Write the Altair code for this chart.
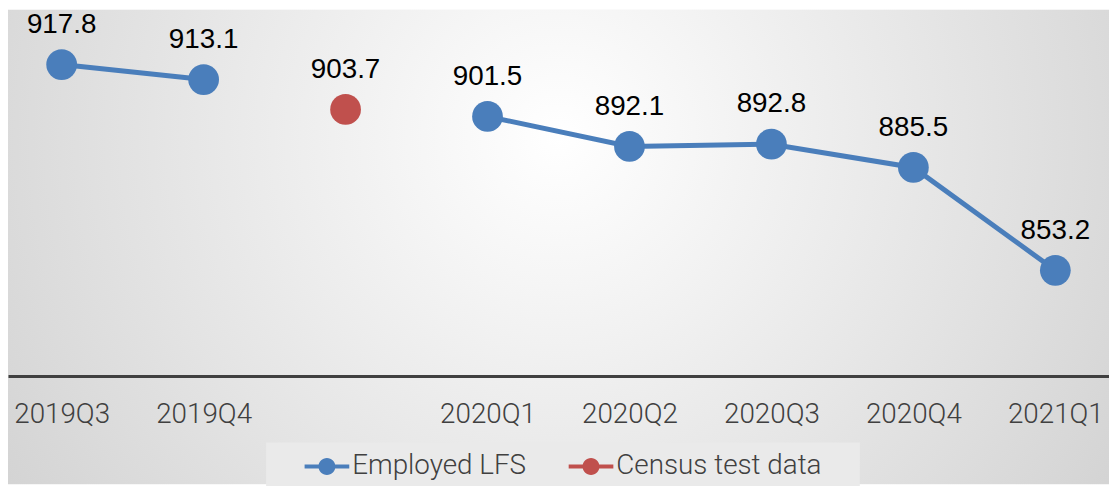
import altair as alt
import pandas as pd

quarters = ["2019Q3", "2019Q4", "Census", "2020Q1", "2020Q2", "2020Q3", "2020Q4", "2021Q1"]
values = [917.8, 913.1, 903.7, 901.5, 892.1, 892.8, 885.5, 853.2]
series = ["Employed LFS", "Employed LFS", "Census test data", "Employed LFS",
          "Employed LFS", "Employed LFS", "Employed LFS", "Employed LFS"]
segment = [1, 1, 0, 2, 2, 2, 2, 2]

series_names = ["Employed LFS", "Census test data"]
series_colors = ["#4A7EBB", "#C0504D"]

df = pd.DataFrame({"quarter": quarters, "value": values, "series": series, "segment": segment})

W, H = 1109, 369

xenc = alt.X("quarter:N", sort=quarters,
             scale=alt.Scale(type="point", padding=0.378),
             axis=alt.Axis(title=None, ticks=False, labelAngle=0, zindex=1,
                           labelExpr="datum.value == 'Census' ? '' : datum.value",
                           labelFont="Roboto", labelFontWeight=300, labelFontSize=28,
                           labelColor="#404040", labelPadding=25,
                           domainColor="#404040", domainWidth=3, grid=False))
yenc = alt.Y("value:Q", scale=alt.Scale(domain=[820, 935], nice=False, zero=False), axis=None)

bg = alt.Chart(alt.Data(values=[{"a": 1}])).mark_rect(
    fill=alt.RadialGradient(
        gradient="radial",
        stops=[alt.GradientStop(offset=0, color="#ffffff"),
               alt.GradientStop(offset=1, color="#c6c6c6")],
        x1=0.5, y1=0.4, r1=0, x2=0.5, y2=0.4, r2=0.78)
).encode(x=alt.value(0), x2=alt.value(W), y=alt.value(0), y2=alt.value(478))

base = alt.Chart(df)

line = base.transform_filter("datum.segment > 0").mark_line(
    color=series_colors[0], strokeWidth=5
).encode(x=xenc, y=yenc, detail="segment:N")

legend_symbol = ("M -2 -0.18 L 2 -0.18 L 2 0.18 L -2 0.18 Z "
                 "M 0.76 0 A 0.76 0.76 0 1 1 -0.76 0 A 0.76 0.76 0 1 1 0.76 0 Z")

pad_right = "\u00a0\u2800"

points = base.mark_point(filled=True, size=960, opacity=1).encode(
    x=xenc, y=yenc,
    color=alt.Color("series:N",
                    scale=alt.Scale(domain=series_names, range=series_colors),
                    legend=alt.Legend(title=" ", titleOrient="left", titleFontSize=11,
                                      titlePadding=26,
                                      orient="none", direction="horizontal",
                                      legendX=260, legendY=436, padding=10,
                                      fillColor="#eaeaea",
                                      symbolType=legend_symbol, symbolSize=506,
                                      symbolOffset=11.25,
                                      symbolStrokeWidth=0, symbolOpacity=1,
                                      labelFont="Roboto", labelFontWeight=300,
                                      labelFontSize=28, labelColor="#404040",
                                      labelOffset=11.5, columnPadding=40,
                                      labelExpr="datum.label == 'Census test data' ? datum.label + '" + pad_right + "' : datum.label",
                                      labelLimit=400))
)

labels = base.mark_text(font="Liberation Sans", fontSize=28, color="#000000",
                        dy=-32, baseline="alphabetic").encode(
    x=xenc, y=yenc, text=alt.Text("value:Q", format=".1f")
)

chart = alt.layer(bg, line, points, labels).properties(
    width=W, height=H, padding=0
).configure_view(stroke=None)

chart.save("out.html", embed_options={"renderer": "svg", "actions": False})
